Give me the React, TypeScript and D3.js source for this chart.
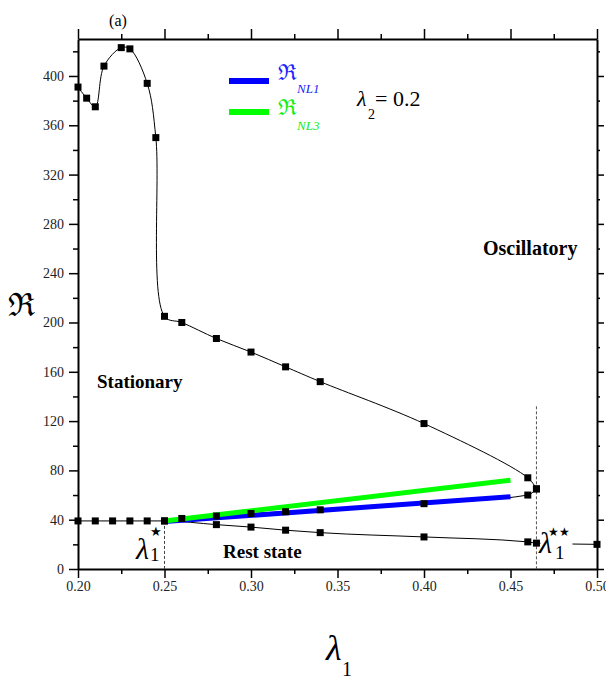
import React, { useEffect, useRef } from 'react'
import * as d3 from 'd3'

// upper stability curve (stationary / oscillatory boundary)
const upperLambda = [0.2, 0.205, 0.21, 0.215, 0.225, 0.23, 0.24, 0.245, 0.25, 0.26, 0.28, 0.3, 0.32, 0.34, 0.4, 0.46, 0.465]
const upperR = [391, 382, 375, 408, 423, 422, 394, 350, 205, 200, 187, 176, 164, 152, 118, 74, 65]

// rest state boundary
const restLambda = [0.2, 0.21, 0.22, 0.23, 0.24, 0.25, 0.28, 0.3, 0.32, 0.34, 0.4, 0.46, 0.465, 0.5]
const restR = [39, 39, 39, 39, 39, 39, 36, 34, 31.5, 29.5, 26, 22, 21, 20]

// rising branch from lambda1* to lambda1**
const branchLambda = [0.25, 0.26, 0.28, 0.3, 0.32, 0.34, 0.4, 0.46, 0.465]
const branchR = [39, 41, 43, 45, 46.5, 48, 53, 60, 65]

// nonlinear estimates
const nlLambda = [0.25, 0.45]
const nl1R = [38.5, 58.6]
const nl3R = [39, 72]

const xMajor = [0.2, 0.25, 0.3, 0.35, 0.4, 0.45, 0.5]
const xMinor = [0.225, 0.275, 0.325, 0.375, 0.425, 0.475]
const yMajor = [0, 40, 80, 120, 160, 200, 240, 280, 320, 360, 400]
const yMinor = [20, 60, 100, 140, 180, 220, 260, 300, 340, 380, 420]

const lambdaStar = 0.25
const lambdaStarStar = 0.465

const W = 606
const H = 678
const serif = '"Liberation Serif", "Times New Roman", serif'

export default function App() {
  const ref = useRef<SVGGElement>(null)

  useEffect(() => {
    const x = d3.scaleLinear().domain([0.2, 0.5]).range([78, 597])
    const y = d3.scaleLinear().domain([0, 430]).range([569, 39])
    const g = d3.select(ref.current)
    g.selectAll('*').remove()

    const zip = (a: number[], b: number[]) => a.map((v, i) => [v, b[i]] as [number, number])
    const line = d3.line<[number, number]>()
      .x(d => x(d[0]))
      .y(d => y(d[1]))

    // axes: major ticks with labels, minor ticks without
    const sides = [
      { make: () => d3.axisBottom(x), tr: `translate(0,${y(0)})`, major: 9, minor: 5, labels: true, horiz: true },
      { make: () => d3.axisTop(x), tr: `translate(0,${y(430)})`, major: 10, minor: 5, labels: false, horiz: true },
      { make: () => d3.axisLeft(y), tr: `translate(${x(0.2)},0)`, major: 9, minor: 5, labels: true, horiz: false },
      { make: () => d3.axisRight(y), tr: `translate(${x(0.5)},0)`, major: 7, minor: 3, labels: false, horiz: false },
    ]
    sides.forEach(a => {
      const majorAxis = a.make() as any
      majorAxis
        .tickValues(a.horiz ? xMajor : yMajor)
        .tickSize(a.major)
        .tickSizeOuter(0)
        .tickPadding(a.horiz ? 3 : 5)
        .tickFormat(a.labels ? (d: any) => (a.horiz ? d3.format('.2f')(d) : String(d)) : () => '')
      const ga = g.append('g').attr('transform', a.tr).call(majorAxis)
      ga.select('.domain').attr('stroke', '#000').attr('stroke-width', 2)
      ga.selectAll('.tick line').attr('stroke', '#000').attr('stroke-width', 1.5)
      ga.selectAll('.tick text')
        .attr('font-family', serif)
        .attr('font-size', 14)
        .attr('fill', '#222')

      const minorAxis = a.make() as any
      minorAxis
        .tickValues(a.horiz ? xMinor : yMinor)
        .tickSize(a.minor)
        .tickSizeOuter(0)
        .tickFormat(() => '')
      const gm = g.append('g').attr('transform', a.tr).call(minorAxis)
      gm.select('.domain').remove()
      gm.selectAll('.tick line').attr('stroke', '#000').attr('stroke-width', 1.5)
    })

    // dashed markers for lambda1* and lambda1**
    g.append('line')
      .attr('x1', x(lambdaStar)).attr('x2', x(lambdaStar))
      .attr('y1', y(39)).attr('y2', y(0))
      .attr('stroke', '#444').attr('stroke-dasharray', '3,2').attr('stroke-width', 1)
    g.append('line')
      .attr('x1', x(lambdaStarStar)).attr('x2', x(lambdaStarStar))
      .attr('y1', y(132)).attr('y2', y(0))
      .attr('stroke', '#555').attr('stroke-dasharray', '3,2').attr('stroke-width', 1)

    // thin black curves
    const upper = zip(upperLambda, upperR)
    const rest = zip(restLambda, restR)
    const branch = zip(branchLambda, branchR)
    g.append('path')
      .attr('d', line.curve(d3.curveCatmullRom.alpha(0.5))(upper))
      .attr('fill', 'none').attr('stroke', '#000').attr('stroke-width', 1)
    ;[rest, branch].forEach(c => {
      g.append('path')
        .attr('d', line.curve(d3.curveMonotoneX)(c))
        .attr('fill', 'none').attr('stroke', '#000').attr('stroke-width', 1)
    })

    // nonlinear lines
    g.append('path')
      .attr('d', line.curve(d3.curveLinear)(zip(nlLambda, nl1R)))
      .attr('stroke', '#0000ff').attr('stroke-width', 5).attr('fill', 'none')
    g.append('path')
      .attr('d', line.curve(d3.curveLinear)(zip(nlLambda, nl3R)))
      .attr('stroke', '#00ff00').attr('stroke-width', 5).attr('fill', 'none')

    // square markers
    const pts = [...upper, ...rest, ...branch]
    g.selectAll('rect.pt')
      .data(pts)
      .enter().append('rect')
      .attr('class', 'pt')
      .attr('x', d => x(d[0]) - 3.5)
      .attr('y', d => y(d[1]) - 3.5)
      .attr('width', 7)
      .attr('height', 7)
      .attr('fill', '#000')

    // white patch behind lambda1** label
    g.append('rect')
      .attr('x', x(lambdaStarStar) + 4).attr('y', y(50))
      .attr('width', 32).attr('height', 40)
      .attr('fill', '#fff')
  }, [])

  return (
    <svg width={W} height={H} style={{ position: 'absolute', left: 0, top: 0, background: '#fff' }}>
      <g ref={ref} />
      <g fontFamily={serif} fill="#000">
        <text x={118} y={26} fontSize={16} textAnchor="middle">(a)</text>

        <line x1={229} x2={269} y1={81} y2={81} stroke="#0000ff" strokeWidth={6} />
        <line x1={229} x2={269} y1={112} y2={112} stroke="#00ff00" strokeWidth={6} />
        <text x={278} y={80} fontSize={22} fill="#2222ff" fontFamily='"DejaVu Serif", serif'>ℜ</text>
        <text x={297} y={93} fontSize={13} fontStyle="italic" fill="#2222ff">NL1</text>
        <text x={278} y={115} fontSize={22} fill="#11ee11" fontFamily='"DejaVu Serif", serif'>ℜ</text>
        <text x={297} y={130} fontSize={13} fontStyle="italic" fill="#11ee11">NL3</text>

        <text x={357} y={106} fontSize={22} fontStyle="italic">λ</text>
        <text x={368} y={119} fontSize={14}>2</text>
        <text x={375} y={106} fontSize={22}>= 0.2</text>

        <text x={483} y={255} fontSize={20} fontWeight="bold">Oscillatory</text>
        <text x={97} y={388} fontSize={19} fontWeight="bold">Stationary</text>
        <text x={223} y={558} fontSize={19} fontWeight="bold">Rest state</text>

        <text x={136} y={559} fontSize={30} fontStyle="italic">λ</text>
        <text x={150} y={561} fontSize={19}>1</text>
        <text x={150} y={536} fontSize={13}>★</text>

        <text x={539} y={553} fontSize={30} fontStyle="italic">λ</text>
        <text x={555} y={559} fontSize={19}>1</text>
        <text x={548} y={536} fontSize={12}>★★</text>

        <text x={21} y={316} fontSize={32} textAnchor="middle" fontFamily='"DejaVu Serif", serif'>ℜ</text>
        <text x={326} y={660} fontSize={36} fontStyle="italic">λ</text>
        <text x={342} y={676} fontSize={20}>1</text>
      </g>
    </svg>
  )
}
